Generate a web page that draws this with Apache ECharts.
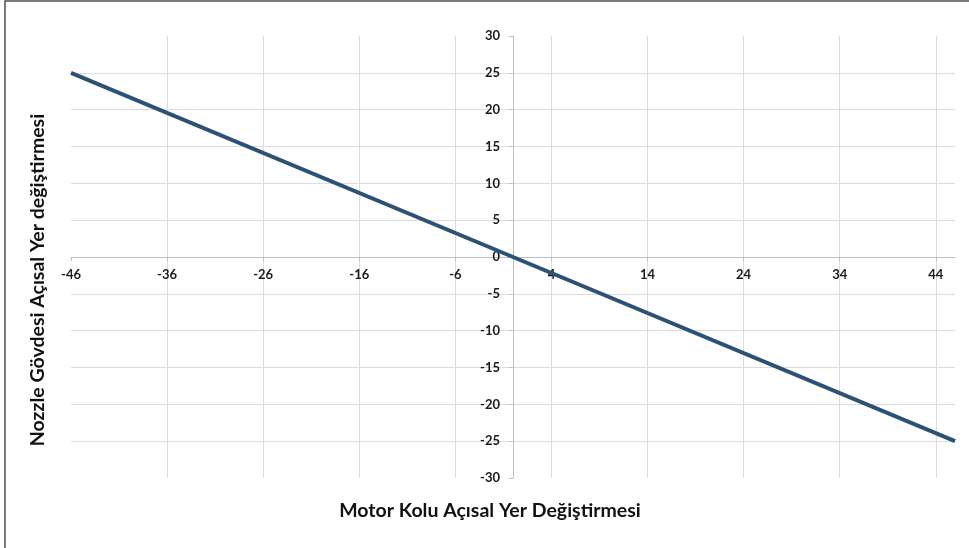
<!DOCTYPE html>
<html>
<head>
<meta charset="utf-8">
<script src="https://cdn.jsdelivr.net/npm/echarts@6/dist/echarts.min.js"></script>
<style>
  html, body { margin: 0; padding: 0; background: #fff; }
  #chart { width: 969px; height: 548px; }
</style>
</head>
<body>
<div id="chart"></div>
<script>
// Motor arm vs. nozzle body angular displacement
const motorAngle = [-46, 0, 46];
const nozzleAngle = [25, 0, -25];
const xTitle = 'Motor Kolu Açısal Yer Değiştirmesi';
const yTitle = 'Nozzle Gövdesi Açısal Yer değiştirmesi';

const points = motorAngle.map((x, i) => [x, nozzleAngle[i]]);

// plot box in pixels; both axes cross at the origin in its middle
const GRID = { left: 71, right: 14, top: 36, bottom: 70 };
const plotW = 969 - GRID.left - GRID.right;
const plotH = 548 - GRID.top - GRID.bottom;

const labelFont = {
  fontFamily: 'Lato, "Open Sans", sans-serif',
  fontWeight: 'bold',
  fontSize: 13,
  color: '#1a1a1a'
};
const titleFont = {
  fontFamily: 'Lato, "Open Sans", sans-serif',
  fontWeight: 'bold',
  fontSize: 19.5,
  fill: '#111111',
  align: 'center',
  verticalAlign: 'middle'
};

const chart = echarts.init(document.getElementById('chart'), null, { renderer: 'canvas' });
chart.setOption({
  animation: false,
  backgroundColor: '#ffffff',
  grid: Object.assign({ containLabel: false }, GRID),
  xAxis: {
    type: 'value',
    position: 'bottom',
    offset: -plotH / 2,
    min: -46,
    max: 46,
    interval: 10,
    axisLine: { onZero: false, lineStyle: { color: '#bfbfbf', width: 1 } },
    axisTick: { show: true, length: 4, lineStyle: { color: '#bfbfbf' } },
    axisLabel: Object.assign({ margin: 11, showMaxLabel: false }, labelFont),
    splitLine: {
      show: true,
      showMinLine: false,
      showMaxLine: false,
      lineStyle: { color: '#dcdcdc', width: 1 }
    }
  },
  yAxis: {
    type: 'value',
    position: 'left',
    offset: -plotW / 2,
    min: -30,
    max: 30,
    interval: 5,
    axisLine: { onZero: false, lineStyle: { color: '#bfbfbf', width: 1 } },
    axisTick: { show: true, length: 4, lineStyle: { color: '#bfbfbf' } },
    axisLabel: Object.assign({ margin: 13 }, labelFont),
    splitLine: {
      show: true,
      showMinLine: false,
      showMaxLine: false,
      lineStyle: { color: '#dcdcdc', width: 1 }
    }
  },
  series: [{
    type: 'line',
    data: points,
    showSymbol: false,
    lineStyle: { color: '#2b5275', width: 4 },
    z: 5
  }],
  graphic: [
    {
      type: 'rect',
      shape: { x: 5, y: 1, width: 1200, height: 800 },
      style: { fill: 'none', stroke: '#4d4d4d', lineWidth: 1.5 },
      silent: true
    },
    {
      type: 'text',
      x: 490,
      y: 511,
      style: Object.assign({ text: xTitle }, titleFont)
    },
    {
      type: 'text',
      x: 38,
      y: 280,
      rotation: Math.PI / 2,
      style: Object.assign({ text: yTitle }, titleFont)
    }
  ]
});
</script>
</body>
</html>
